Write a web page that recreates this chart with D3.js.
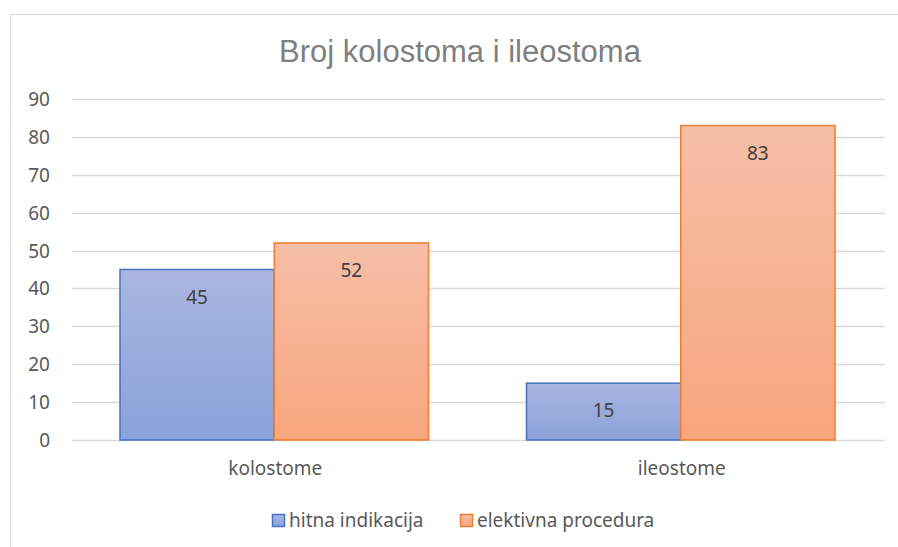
<!DOCTYPE html>
<head>
<meta charset="utf-8">
<title>Broj kolostoma i ileostoma</title>
<script src="https://cdn.jsdelivr.net/npm/d3@7"></script>
<style>
body { margin: 0; background: #fff; }
text { font-family: "Noto Sans", "Open Sans", sans-serif; }
</style>
</head>
<body>
<script>
// data
var categories = ["kolostome", "ileostome"];
var seriesNames = ["hitna indikacija", "elektivna procedura"];
var hitna = [45, 15];
var elektivna = [52, 83];
var yTicks = [0, 10, 20, 30, 40, 50, 60, 70, 80, 90];

var width = 898, height = 547;
var plotLeft = 72, plotRight = 885, plotTop = 99, plotBottom = 440;

var svg = d3.select("body").append("svg")
	.attr("width", width)
	.attr("height", height);

// gradients
var defs = svg.append("defs");
var grads = [
	{id: "gBlue", top: "#aab6e0", bot: "#8aa2da"},
	{id: "gOrange", top: "#f6bea7", bot: "#f7a67e"}
];
grads.forEach(function(g) {
	var lg = defs.append("linearGradient").attr("id", g.id)
		.attr("x1", 0).attr("y1", 0).attr("x2", 0).attr("y2", 1);
	lg.append("stop").attr("offset", "0%").attr("stop-color", g.top);
	lg.append("stop").attr("offset", "100%").attr("stop-color", g.bot);
});
var fills = ["url(#gBlue)", "url(#gOrange)"];
var strokes = ["#4472c4", "#ed7d31"];

// chart border
svg.append("rect")
	.attr("x", 10.5).attr("y", 14.5)
	.attr("width", 900).attr("height", 540)
	.attr("fill", "none").attr("stroke", "#d9d9d9");

svg.append("text")
	.attr("x", 460).attr("y", 62)
	.attr("text-anchor", "middle")
	.style("font-family", "'Liberation Sans', Arial, sans-serif")
	.style("font-size", "31px")
	.attr("fill", "#7f7f7f")
	.text("Broj kolostoma i ileostoma");

var y = d3.scaleLinear().domain([0, 90]).range([plotBottom, plotTop]);
var x0 = d3.scaleBand().domain(categories).range([plotLeft, plotRight]);
var x1 = d3.scaleBand().domain([0, 1])
	.range([48, x0.bandwidth() - 50]);

// gridlines
svg.append("g").selectAll("line").data(yTicks).enter().append("line")
	.attr("x1", plotLeft).attr("x2", plotRight)
	.attr("y1", function(d) { return Math.round(y(d)) + 0.5; })
	.attr("y2", function(d) { return Math.round(y(d)) + 0.5; })
	.attr("stroke", "#d9d9d9").attr("stroke-width", 1.3);

// y axis labels
svg.append("g").selectAll("text").data(yTicks).enter().append("text")
	.attr("x", 50)
	.attr("y", function(d) { return y(d) + 7; })
	.attr("text-anchor", "end")
	.attr("fill", "#595959")
	.style("font-size", "19px")
	.text(function(d) { return d; });

// bars
var rows = categories.map(function(c, i) { return [hitna[i], elektivna[i]]; });
var groups = svg.selectAll("g.cat").data(rows).enter().append("g")
	.attr("class", "cat")
	.attr("transform", function(d, i) { return "translate(" + x0(categories[i]) + ",0)"; });

groups.selectAll("rect").data(function(d) { return d; }).enter().append("rect")
	.attr("x", function(d, j) { return x1(j); })
	.attr("y", function(d) { return y(d); })
	.attr("width", x1.bandwidth())
	.attr("height", function(d) { return plotBottom - y(d); })
	.attr("fill", function(d, j) { return fills[j]; })
	.attr("stroke", function(d, j) { return strokes[j]; })
	.attr("stroke-width", 1.5);

groups.selectAll("text").data(function(d) { return d; }).enter().append("text")
	.attr("x", function(d, j) { return x1(j) + x1.bandwidth() / 2; })
	.attr("y", function(d) { return y(d) + 34; })
	.attr("text-anchor", "middle")
	.attr("fill", "#404040")
	.style("font-size", "19px")
	.text(function(d) { return d; });

// category labels
svg.append("g").selectAll("text").data(categories).enter().append("text")
	.attr("x", function(d) { return x0(d) + x0.bandwidth() / 2; })
	.attr("y", 475)
	.attr("text-anchor", "middle")
	.attr("fill", "#595959")
	.style("font-size", "19px")
	.text(function(d) { return d; });

// legend
var legX = [272, 460];
var leg = svg.append("g").selectAll("g").data(seriesNames).enter().append("g")
	.attr("transform", function(d, i) { return "translate(" + legX[i] + ",514)"; });
leg.append("rect")
	.attr("x", 0.5).attr("y", 0.5).attr("width", 12).attr("height", 12)
	.attr("fill", function(d, i) { return fills[i]; })
	.attr("stroke", function(d, i) { return strokes[i]; })
	.attr("stroke-width", 1.5);
leg.append("text")
	.attr("x", 17).attr("y", 13)
	.attr("fill", "#595959")
	.style("font-size", "19px")
	.text(function(d) { return d; });
</script>
</body>
